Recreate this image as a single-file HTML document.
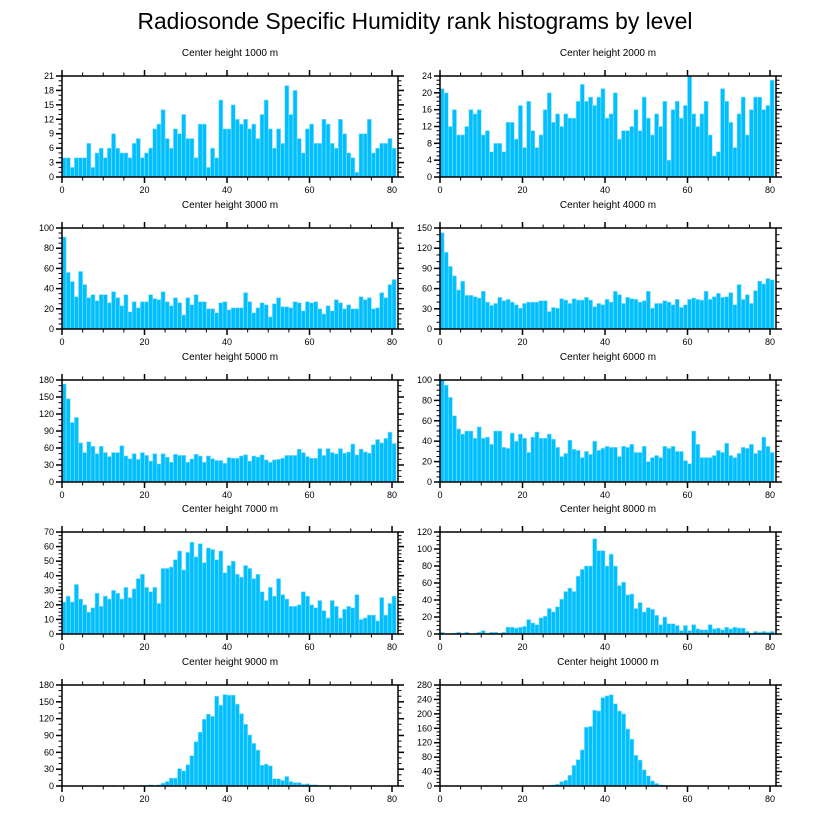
<!DOCTYPE html>
<html><head><meta charset="utf-8"><style>
body{margin:0;background:#fff;}
svg{display:block;font-family:"Liberation Sans",sans-serif;}
</style></head><body>
<svg id="chart" width="816" height="824" viewBox="0 0 816 824" xmlns="http://www.w3.org/2000/svg">
<text x="415" y="29" text-anchor="middle" font-size="22.8">Radiosonde Specific Humidity rank histograms by level</text>
</svg>
<script>
const heights = ["1000","2000","3000","4000","5000","6000","7000","8000","9000","10000"];
const yMax = [21,24,100,150,180,100,70,120,180,280];
const yStep = [3,4,20,30,30,20,10,20,30,40];
const xTicks = [0,20,40,60,80];
const v1000 = [4,4,2,4,4,4,7,2,5,6,4,6,9,6,5,5,4,7,8,4,5,6,10,11,14,8,6,10,9,13,8,8,4,11,11,2,6,4,16,10,10,15,12,11,12,10,11,8,13,16,10,6,10,7,19,13,18,8,5,10,11,7,7,12,11,7,6,12,9,5,4,1,9,9,12,5,6,7,7,8,6];
const v2000 = [21,20,12,16,10,10,12,16,15,16,10,11,6,8,8,6,13,13,9,17,7,18,11,7,10,16,20,13,15,12,15,14,14,18,22,18,19,17,19,21,14,15,20,9,11,11,12,16,11,19,14,10,15,12,18,4,16,18,14,17,24,15,12,15,18,10,5,6,21,18,13,7,15,19,10,16,19,19,16,17,23];
const v3000 = [91,56,47,32,57,44,31,34,28,34,34,26,37,31,23,34,17,27,21,27,27,34,30,29,37,27,23,31,26,14,31,24,34,27,27,20,20,16,26,27,19,21,21,21,36,27,16,21,26,24,12,25,31,22,22,21,27,26,18,27,26,27,20,15,23,18,29,26,20,24,20,20,32,29,31,20,21,36,31,44,49];
const v4000 = [143,114,93,79,58,71,50,50,48,46,56,40,35,38,47,42,44,40,36,31,38,40,40,40,42,42,26,32,31,45,43,38,45,43,43,47,43,33,38,36,44,40,56,51,38,47,45,44,40,42,56,31,38,38,42,40,36,44,32,36,44,46,44,43,56,44,48,53,47,48,54,36,66,44,51,38,57,71,67,75,73];
const v5000 = [173,147,105,114,69,52,71,63,50,63,52,45,52,52,64,46,41,50,40,52,47,37,50,32,50,44,35,49,47,47,35,41,49,46,35,46,41,38,38,33,43,42,42,46,48,37,46,44,48,39,35,39,40,42,47,47,47,58,52,45,42,42,59,47,59,52,50,59,51,53,67,48,58,53,51,66,75,69,77,88,68];
const v6000 = [100,95,83,65,52,47,50,50,43,54,43,44,37,50,50,34,33,48,40,47,43,29,44,49,43,43,47,42,34,25,28,41,32,31,24,30,27,40,31,33,35,34,34,25,35,34,37,29,29,35,20,24,26,24,35,33,35,30,30,21,18,50,37,24,24,24,26,31,29,38,26,24,28,34,33,37,28,31,44,35,29];
const v7000 = [22,26,22,34,24,20,15,18,28,19,26,24,30,28,24,32,25,31,38,41,32,29,32,21,45,45,46,51,57,44,56,63,53,62,49,59,58,51,57,42,47,50,41,39,47,45,38,41,29,23,32,26,38,27,24,19,19,20,29,26,20,18,23,16,11,23,19,11,17,19,18,27,10,11,13,13,9,25,13,21,26];
const v8000 = [2,0,0,1,2,0,2,0,1,2,4,1,2,2,1,2,8,8,7,8,9,17,13,11,19,21,30,26,32,41,50,54,50,68,76,80,80,112,98,98,80,94,80,57,61,46,47,30,37,26,31,29,22,11,20,12,12,10,4,10,4,11,6,5,5,11,6,7,5,8,6,8,7,7,3,0,3,2,3,2,3];
const v9000 = [0,0,0,0,0,0,0,0,0,0,0,0,1,0,0,1,0,0,1,1,1,2,1,2,5,8,14,14,31,27,38,54,79,96,119,128,124,160,144,163,162,162,146,129,110,91,76,64,37,39,36,13,13,10,17,8,6,6,3,4,2,2,1,1,1,1,0,0,0,0,0,1,0,1,0,1,0,0,0,1,0];
const v10000 = [0,0,0,0,0,0,0,0,0,0,0,0,0,0,0,0,0,0,0,0,0,0,0,0,0,0,2,3,5,12,16,30,57,73,100,163,165,210,208,245,250,253,228,208,200,158,130,85,72,45,28,14,7,3,2,1,1,1,0,0,0,1,0,0,1,1,1,0,0,0,0,0,0,1,1,1,1,0,0,0,0];
const series = [v1000,v2000,v3000,v4000,v5000,v6000,v7000,v8000,v9000,v10000];

const NS = "http://www.w3.org/2000/svg";
const svg = document.getElementById("chart");
const colX = [62, 440];
const rowY = [[76,177],[228,329],[380,482],[532,634],[685,786]];
const PW = 336, XMAX = 81.45;
function mk(tag, attrs, parent){const e=document.createElementNS(NS,tag);for(const k in attrs)e.setAttribute(k,attrs[k]);(parent||svg).appendChild(e);return e;}

series.forEach((vals, p) => {
  const x0 = colX[p%2], top = rowY[Math.floor(p/2)][0], bot = rowY[Math.floor(p/2)][1];
  const H = bot - top;
  const xs = v => x0 + v/XMAX*PW;
  const ys = v => bot - v/yMax[p]*H;
  const g = mk("g", {});
  
  
  const t = mk("text", {x: x0+PW/2, y: top-20, "text-anchor":"middle", "font-size":"10"}, g);
  t.textContent = "Center height " + heights[p] + " m";
  
  
  vals.forEach((v, i) => {
    const r = mk("rect", {x: xs(i), y: ys(v), width: xs(i+1)-xs(i), height: bot-ys(v), fill:"#00bfff", stroke:"#8fe0ff", "stroke-width":"0.6"}, g);
    
    
  });
  const fr = mk("rect", {x:x0, y:top, width:PW, height:H, fill:"none", stroke:"#000", "stroke-width":"1.5"}, g);
  
  
  for (let v=0; v<=80; v+=5) {
    const L = v%20===0 ? 6 : 3.5, X = xs(v);
    mk("line",{x1:X,y1:bot,x2:X,y2:bot+L,stroke:"#000","stroke-width":v%20===0?1.5:1},g);
    mk("line",{x1:X,y1:top,x2:X,y2:top-L,stroke:"#000","stroke-width":v%20===0?1.5:1},g);
  }
  xTicks.forEach(v => {
    const tl = mk("text",{x:xs(v),y:bot+16,"text-anchor":"middle","font-size":"9"},g);
    tl.textContent = v;
    
    
  });
  const minor = yStep[p]/ (yStep[p]%4===0 && yStep[p]>4 ? 4 : (yStep[p]%3===0 ? 3 : 4));
  for (let v=0; v<=yMax[p]+1e-9; v+=minor) {
    const isMaj = Math.abs(v/yStep[p]-Math.round(v/yStep[p]))<1e-6;
    const L = isMaj?6:3.5, Y = ys(v);
    mk("line",{x1:x0,y1:Y,x2:x0-L,y2:Y,stroke:"#000","stroke-width":isMaj?1.5:1},g);
    mk("line",{x1:x0+PW,y1:Y,x2:x0+PW+L,y2:Y,stroke:"#000","stroke-width":isMaj?1.5:1},g);
    if (isMaj) {
      const yl = mk("text",{x:x0-8,y:Y+3,"text-anchor":"end","font-size":"9"},g);
      yl.textContent = Math.round(v);
      
      
    }
  }
});
</script>
</body></html>
